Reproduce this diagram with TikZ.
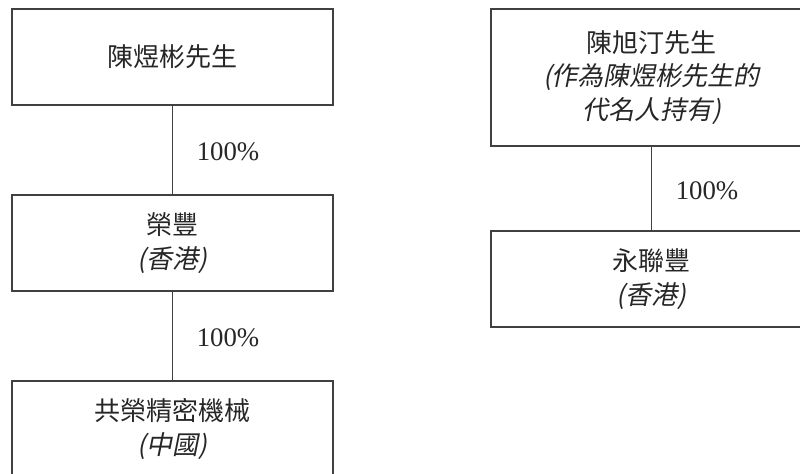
\documentclass[tikz,border=0pt]{standalone}
\usepackage{fontspec}
\setmainfont{Liberation Serif}
\newfontfamily\cjk{Noto Sans CJK TC}
\newfontfamily\cjkit{Noto Sans CJK TC}[FakeSlant=0.2]
\usetikzlibrary{positioning}
\colorlet{BoxLine}{black!75}
\colorlet{BoxText}{black!85}
\tikzset{
  entity/.style={draw=BoxLine, line width=0.6pt, rectangle, minimum width=160.5pt,
    minimum height=48pt, inner sep=0pt, align=center, text=BoxText,
    font=\cjk\fontsize{13}{16.8}\selectfont},
  link/.style={draw=BoxLine, line width=0.6pt},
  share/.style={midway, anchor=west, xshift=8.5pt, yshift=-1pt, text=BoxText,
    font=\fontsize{13.4}{15}\selectfont}
}
\begin{document}
\begin{tikzpicture}[x=0.5pt,y=-0.5pt]
    \useasboundingbox (0,0) rectangle (800,473);
    \clip (0,0) rectangle (800,473);
%   left column
    \node[entity] (chenyubin) at (172.5,57) {\vspace*{3pt}陳煜彬先生};
    \node[entity] (wingfung) at (172.5,243) {\vspace*{3pt}榮豐\\{\cjkit (香港)}};
    \node[entity] (kungwing) at (172.5,429) {共榮精密機械\\{\cjkit (中國)}};
    \draw[link] (chenyubin) -- (wingfung) node[share] {100\%};
    \draw[link] (wingfung) -- (kungwing) node[share] {100\%};
%   right column
    \node[entity, minimum height=68.5pt] (chenxuting) at (651.5,77.5)
        {陳旭汀先生\\{\cjkit (作為陳煜彬先生的}\\{\cjkit 代名人持有)}};
    \node[entity] (winglun) at (651.5,279) {\vspace*{2pt}永聯豐\\{\cjkit (香港)}};
    \draw[link] (chenxuting) -- (winglun) node[share] {100\%};
\end{tikzpicture}
\end{document}
